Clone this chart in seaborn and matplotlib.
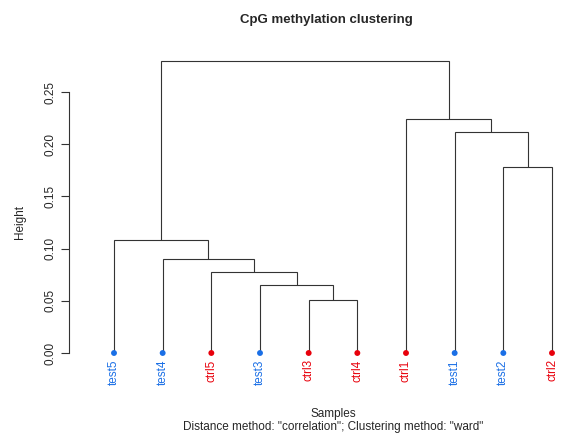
import matplotlib
matplotlib.use("Agg")
import matplotlib.pyplot as plt
import seaborn as sns
import pandas as pd

# leaves in the order the dendrogram draws them
leaf_labels = ["test5", "test4", "ctrl5", "test3", "ctrl3", "ctrl4", "ctrl1", "test1", "test2", "ctrl2"]
leaf_group = ["test", "test", "ctrl", "test", "ctrl", "ctrl", "ctrl", "test", "test", "ctrl"]

# R style merge table: negative = leaf (1-based position), positive = earlier merge
merge_a = [-5, -4, -3, -2, -1, -9, -8, -7, 5]
merge_b = [-6, 1, 2, 3, 4, -10, 6, 7, 8]
merge_height = [0.051, 0.065, 0.078, 0.090, 0.108, 0.178, 0.212, 0.224, 0.280]

group_colors = {"test": "#1a6fe6", "ctrl": "#e8000b"}

sns.set_style("white")
plt.rcParams["font.family"] = ["Liberation Sans", "DejaVu Sans"]

W, H = 561, 436
fig = plt.figure(figsize=(W / 100, H / 100), dpi=100)

# axes placed in pixels: left spine at x=69, y=0 at px 353, 0.25 at px 92
px_per_unit_y = (353 - 92) / 0.25
px_per_leaf = (552 - 114) / 9
left_px, right_px, top_px, bot_px = 69, 561, 40, 362
ax = fig.add_axes([left_px / W, 1 - bot_px / H, (right_px - left_px) / W, (bot_px - top_px) / H])
ax.set_xlim(1 + (left_px - 114) / px_per_leaf, 1 + (right_px - 114) / px_per_leaf)
ax.set_ylim(-(bot_px - 353) / px_per_unit_y, (353 - top_px) / px_per_unit_y)


def node_pos(ref, nodes):
    if ref < 0:
        return -ref, 0.0
    return nodes[ref - 1]


nodes = []
for a, b, h in zip(merge_a, merge_b, merge_height):
    xa, ya = node_pos(a, nodes)
    xb, yb = node_pos(b, nodes)
    ax.plot([xa, xa, xb, xb], [ya, h, h, yb], color="#333333", lw=0.8, solid_joinstyle="miter")
    nodes.append(((xa + xb) / 2, h))

df = pd.DataFrame({"x": range(1, len(leaf_labels) + 1), "y": 0.0, "group": leaf_group, "label": leaf_labels})
sns.scatterplot(data=df, x="x", y="y", hue="group", palette=group_colors, s=18, edgecolor="none",
                legend=False, ax=ax, zorder=3)

for _, row in df.iterrows():
    ax.text(row["x"], -0.006, row["label"], rotation=90, ha="center", va="top",
            color=group_colors[row["group"]], fontsize=8.5)

# R-like axis: only the left one, spanning the ticks
for s in ["top", "right", "bottom"]:
    ax.spines[s].set_visible(False)
ax.spines["left"].set_bounds(0, 0.25)
ax.spines["left"].set_color("#333333")
ax.spines["left"].set_linewidth(0.8)
ax.set_yticks([0, 0.05, 0.10, 0.15, 0.20, 0.25])
ax.set_yticklabels(["0.00", "0.05", "0.10", "0.15", "0.20", "0.25"], rotation=90, va="center", fontsize=8.5)
ax.tick_params(axis="y", left=True, length=6, width=0.8, color="#333333", pad=3)
ax.set_xticks([])
ax.set_xlabel("")
ax.set_ylabel("")
fig.text(20 / W, 1 - 222 / H, "Height", rotation=90, ha="center", va="center", fontsize=8.5)

fig.text(326 / W, 1 - 20 / H, "CpG methylation clustering", ha="center", va="center", fontsize=9.5, fontweight="bold")
fig.text(333 / W, 1 - 414 / H, "Samples", ha="center", va="center", fontsize=8.5)
fig.text(333 / W, 1 - 427 / H, 'Distance method: "correlation"; Clustering method: "ward"', ha="center", va="center", fontsize=8.5)

fig.savefig("out.png", dpi=100)
